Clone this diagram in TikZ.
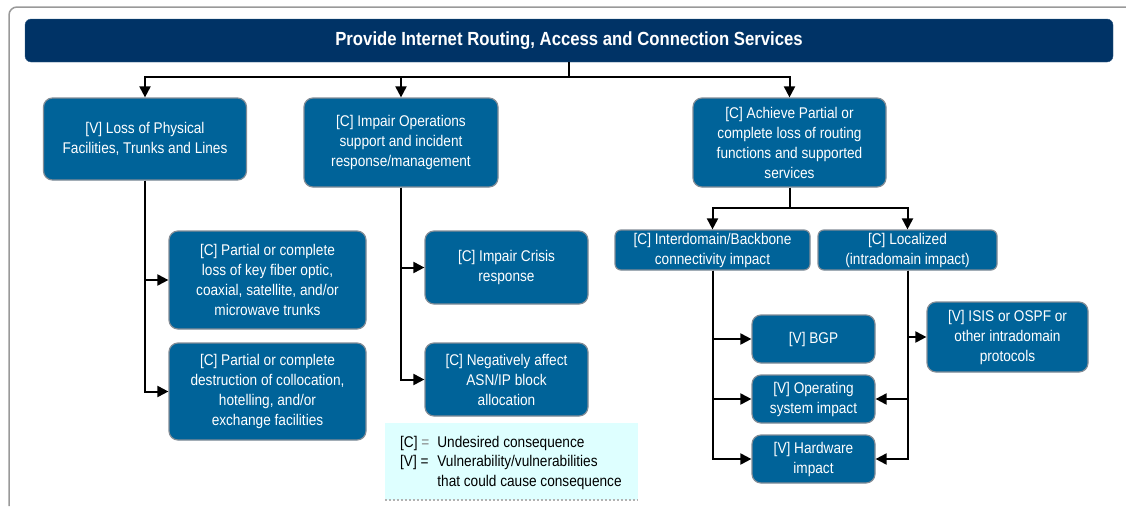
\documentclass[tikz,border=0pt]{standalone}
\usepackage{fontspec}
\setmainfont{Liberation Sans}[FakeStretch=0.88]
\usetikzlibrary{positioning, arrows, arrows.meta}

\definecolor{titleblue}{RGB}{0,51,102}
\definecolor{boxblue}{RGB}{0,99,153}
\definecolor{boxedge}{RGB}{130,140,150}
\definecolor{legendcyan}{RGB}{222,255,255}

\tikzset{
    box/.style={draw=boxedge, line width=1.2pt, rounded corners=9pt, fill=boxblue,
        text=white, align=center, inner sep=0pt,
        font=\fontsize{15.5}{20}\selectfont},
    link/.style={line width=2pt},
    arr/.style={line width=2pt, -{Triangle[length=11pt, width=11pt]}}
}

\begin{document}
\begin{tikzpicture}[x=1pt, y=-1pt]
    \useasboundingbox (0,0) rectangle (1126,506);
    % Frame
    \draw[gray!80, line width=1.5pt, rounded corners=8pt] (9,506) -- (9,7) -- (1126,7);

    % Define nodes
    \node [rounded corners=6pt, fill=titleblue, draw=titleblue!80, text=white, minimum width=1088pt, minimum height=43pt, inner sep=0pt,
        font=\fontsize{19}{23}\selectfont\bfseries] (title) at (569,40.5) {Provide Internet Routing, Access and Connection Services};

    \node [box, minimum width=203pt, minimum height=82pt] (loss) at (145,139) {[V] Loss of Physical\\Facilities, Trunks and Lines};
    \node [box, minimum width=194pt, minimum height=89pt] (impair) at (401,142.5) {[C] Impair Operations\\support and incident\\response/management};
    \node [box, minimum width=193pt, minimum height=89pt] (achieve) at (789.5,142.5) {[C] Achieve Partial or\\complete loss of routing\\functions and supported\\services};

    \node [box, minimum width=197pt, minimum height=98pt] (fiber) at (267.5,280) {[C] Partial or complete\\loss of key fiber optic,\\coaxial, satellite, and/or\\microwave trunks};
    \node [box, minimum width=197pt, minimum height=97pt] (collo) at (267.5,391.5) {[C] Partial or complete\\destruction of collocation,\\hotelling, and/or\\exchange facilities};

    \node [box, minimum width=163pt, minimum height=73pt] (crisis) at (506.5,267.5) {[C] Impair Crisis\\response};
    \node [box, minimum width=163pt, minimum height=73pt] (asn) at (506.5,379.5) {[C] Negatively affect\\ASN/IP block\\allocation};

    \node [box, rounded corners=6pt, minimum width=195pt, minimum height=40pt] (inter) at (712.5,250) {[C] Interdomain/Backbone\\connectivity impact};
    \node [box, rounded corners=6pt, minimum width=179pt, minimum height=40pt] (local) at (907.5,250) {[C] Localized\\(intradomain impact)};

    \node [box, minimum width=123pt, minimum height=48pt] (bgp) at (813.5,339) {[V] BGP};
    \node [box, minimum width=123pt, minimum height=48pt] (os) at (813.5,399) {[V] Operating\\system impact};
    \node [box, minimum width=123pt, minimum height=48pt] (hw) at (813.5,459) {[V] Hardware\\impact};
    \node [box, minimum width=161pt, minimum height=70pt] (isis) at (1007.5,337) {[V] ISIS or OSPF or\\other intradomain\\protocols};

    % Legend
    \node [fill=legendcyan, minimum width=253pt, minimum height=77pt, inner sep=0pt] (legend) at (511.5,461.5) {};
    \draw[gray!60, dotted, line width=2pt] (legend.south west) -- (legend.south east);
    \node [anchor=west, inner sep=0pt, align=left, font=\fontsize{15.5}{19.5}\selectfont] (legendtext) at (400,463)
        {\begin{tabular}{@{}l@{\hspace{8pt}}l@{}}
            [C] {\color{gray}=} & Undesired consequence\\
            {[V]} = & Vulnerability/vulnerabilities\\
                    & that could cause consequence
        \end{tabular}};

    % Arrows from the title to the top row
    \coordinate (split) at (569,77);
    \draw[link] (title.south) -- (split);
    \draw[arr] (split) -| (loss.north);
    \draw[arr] (split) -| (impair.north);
    \draw[arr] (split) -| (achieve.north);

    % Arrows below the top row
    \draw[arr] (loss.south) |- (fiber.west);
    \draw[arr] (loss.south) |- (collo.west);
    \draw[arr] (impair.south) |- (crisis.west);
    \draw[arr] (impair.south) |- (asn.west);

    \coordinate (split2) at (789.5,208);
    \draw[link] (achieve.south) -- (split2);
    \draw[arr] (split2) -| (inter.north);
    \draw[arr] (split2) -| (local.north);

    % Arrows to the vulnerabilities
    \draw[arr] (inter.south) |- (bgp.west);
    \draw[arr] (inter.south) |- (os.west);
    \draw[arr] (inter.south) |- (hw.west);
    \draw[arr] (local.south) |- (isis.west);
    \draw[arr] (local.south) |- (os.east);
    \draw[arr] (local.south) |- (hw.east);
\end{tikzpicture}
\end{document}
